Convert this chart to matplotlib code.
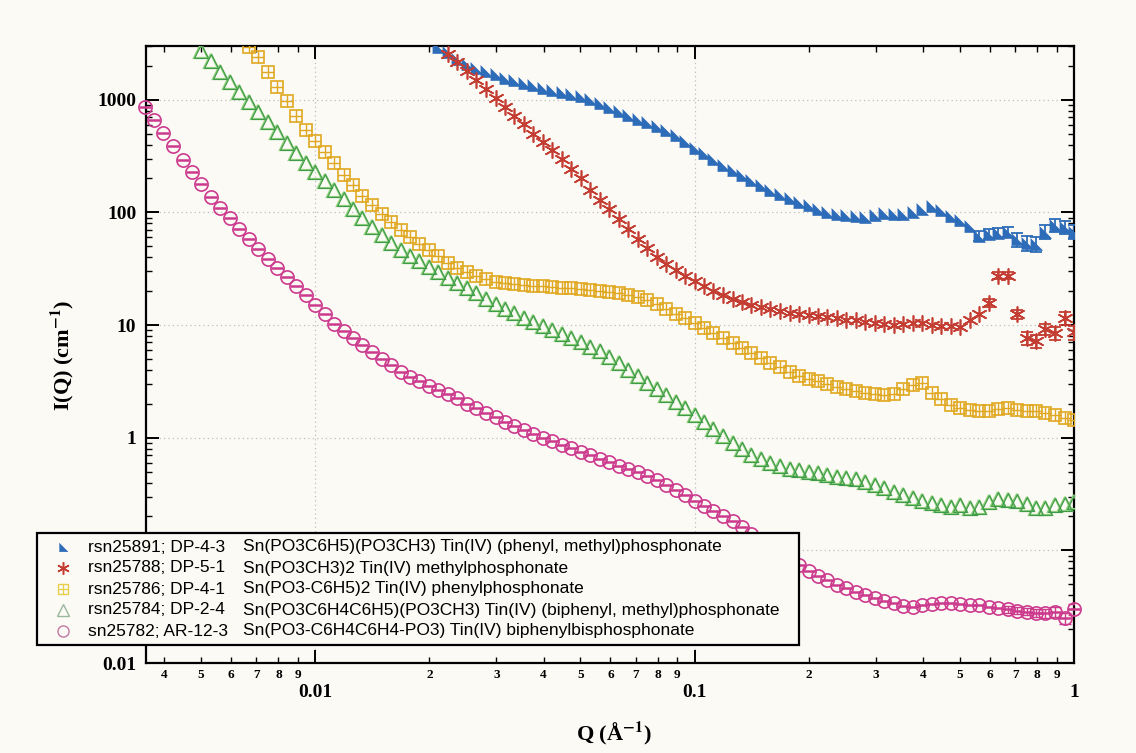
import matplotlib
matplotlib.use('Agg')
import matplotlib.pyplot as plt
from matplotlib.ticker import LogLocator, FuncFormatter, NullFormatter
from matplotlib.patches import Rectangle
import numpy as np

plt.rcParams['font.family'] = 'Liberation Serif'
plt.rcParams['font.weight'] = 'bold'
plt.rcParams['mathtext.fontset'] = 'stix'

# ---------------- data ----------------
q = [0.00355, 0.00376, 0.00398, 0.00422, 0.00447, 0.00473, 0.00501, 0.00531, 0.00562, 0.00596,
     0.00631, 0.00668, 0.00708, 0.00750, 0.00794, 0.00841, 0.00891, 0.00944, 0.0100, 0.0106,
     0.0112, 0.0119, 0.0126, 0.0133, 0.0141, 0.0150, 0.0158, 0.0168, 0.0178, 0.0188,
     0.0200, 0.0211, 0.0224, 0.0237, 0.0251, 0.0266, 0.0282, 0.0299, 0.0316, 0.0335,
     0.0355, 0.0376, 0.0398, 0.0422, 0.0447, 0.0473, 0.0501, 0.0531, 0.0562, 0.0596,
     0.0631, 0.0668, 0.0708, 0.0750, 0.0794, 0.0841, 0.0891, 0.0944, 0.100, 0.106,
     0.112, 0.119, 0.126, 0.133, 0.141, 0.150, 0.158, 0.168, 0.178, 0.188,
     0.200, 0.211, 0.224, 0.237, 0.251, 0.266, 0.282, 0.299, 0.316, 0.335,
     0.355, 0.376, 0.398, 0.422, 0.447, 0.473, 0.501, 0.531, 0.562, 0.596,
     0.631, 0.668, 0.708, 0.750, 0.794, 0.841, 0.891, 0.944, 1.000]

# rsn25891 (blue), first point at q index 31
blue_start = 31
blue_I = [2950, 2630, 2320, 2070, 1930, 1800, 1680, 1570, 1490,
          1410, 1350, 1280, 1220, 1170, 1120, 1070, 1010, 933, 861,
          794, 733, 676, 631, 589, 543, 484, 427, 376, 335,
          299, 266, 240, 216, 195, 176, 158, 145, 133, 124,
          116, 108, 101, 96.6, 94.4, 92.3, 91.2, 94.4, 98.9, 97.7,
          97.7, 101, 108, 114, 105, 93.3, 85.1, 75.0, 61.7, 64.6,
          66.1, 67.6, 57.5, 53.7, 52.5, 67.6, 76.7, 74.1, 67.6]
blue_err_tail = [6, 6, 7, 7, 8, 8, 8, 9, 10, 10, 9]

# rsn25788 (red), first point at q index 32
red_start = 32
red_I = [2570, 2160, 1800, 1500, 1240, 1035, 861, 721,
         603, 501, 422, 355, 295, 244, 200, 158, 129, 107,
         88.1, 71.6, 58.2, 47.9, 40.3, 34.7, 30.5, 27.2, 24.5, 22.1,
         20.0, 18.4, 17.2, 16.0, 15.1, 14.5, 13.8, 13.2, 12.9, 12.6,
         12.3, 12.1, 11.9, 11.6, 11.2, 11.0, 10.7, 10.5, 10.2, 10.1,
         10.2, 10.5, 10.4, 10.1, 9.89, 9.77, 9.66, 11.0, 12.5, 15.7,
         27.5, 27.5, 12.5, 7.6, 7.2, 9.2, 8.5, 11.5, 8.6]
red_err_tail = [1.2, 2.0, 2.0, 1.2, 1.0, 1.0, 1.1, 1.1, 1.5, 1.2]

# rsn25786 (yellow), first point at q index 11
yellow_start = 11
yellow_I = [2950, 2390, 1770, 1310, 973, 721, 543, 432, 343,
            272, 216, 176, 141, 117, 97.7, 82.2, 70.0, 60.3, 52.5,
            46.2, 40.7, 35.9, 32.4, 29.5, 27.2, 25.4, 24.3, 23.6, 23.0,
            22.6, 22.3, 22.0, 21.7, 21.5, 21.2, 20.9, 20.5, 20.0, 19.5,
            19.1, 18.4, 17.6, 16.6, 15.3, 14.0, 12.6, 11.5, 10.5, 9.44,
            8.51, 7.67, 6.92, 6.24, 5.60, 5.07, 4.62, 4.22, 3.85, 3.56,
            3.35, 3.16, 2.99, 2.82, 2.69, 2.58, 2.50, 2.44, 2.41, 2.45,
            2.69, 2.92, 3.09, 2.51, 2.19, 1.97, 1.84, 1.75, 1.72, 1.74,
            1.78, 1.82, 1.76, 1.72, 1.74, 1.66, 1.60, 1.51, 1.45]

# rsn25784 (green), first point at q index 6
green_start = 6
green_I = [2690, 2190, 1780, 1450,
           1180, 955, 776, 631, 513, 417, 339, 275, 229, 190,
           157, 131, 108, 89.9, 74.6, 63.1, 53.7, 46.8, 41.2, 36.7,
           32.9, 29.5, 26.4, 23.7, 21.2, 19.1, 17.1, 15.5, 14.0, 12.7,
           11.6, 10.7, 9.89, 9.08, 8.34, 7.66, 7.03, 6.43, 5.86, 5.19,
           4.57, 4.01, 3.51, 3.07, 2.69, 2.37, 2.08, 1.83, 1.58, 1.37,
           1.19, 1.03, 0.906, 0.798, 0.708, 0.646, 0.600, 0.562, 0.531, 0.513,
           0.498, 0.483, 0.468, 0.452, 0.442, 0.427, 0.407, 0.380, 0.355, 0.331,
           0.309, 0.292, 0.275, 0.263, 0.254, 0.245, 0.251, 0.240, 0.245, 0.269,
           0.288, 0.282, 0.275, 0.257, 0.240, 0.237, 0.251, 0.260, 0.269]

# sn25782 (magenta), first point at q index 0
magenta_start = 0
magenta_I = [865, 661, 504, 385, 294, 229, 177, 137, 110, 88.7,
             71.3, 58.0, 47.4, 38.8, 31.9, 26.5, 22.1, 18.4, 15.2, 12.5,
             10.3, 8.93, 7.73, 6.70, 5.80, 5.02, 4.40, 3.85, 3.47, 3.16,
             2.88, 2.63, 2.42, 2.23, 2.00, 1.82, 1.66, 1.52, 1.38, 1.26,
             1.16, 1.08, 1.00, 0.929, 0.865, 0.803, 0.746, 0.695, 0.649, 0.605,
             0.565, 0.527, 0.492, 0.459, 0.425, 0.381, 0.342, 0.307, 0.276, 0.249,
             0.224, 0.202, 0.182, 0.161, 0.141, 0.124, 0.109, 0.0958, 0.0841, 0.0740,
             0.0653, 0.0596, 0.0543, 0.0495, 0.0460, 0.0430, 0.0402, 0.0376, 0.0357, 0.0340,
             0.0322, 0.0316, 0.0324, 0.0335, 0.0340, 0.0339, 0.0333, 0.0327, 0.0324, 0.0316,
             0.0308, 0.0300, 0.0292, 0.0285, 0.0279, 0.0277, 0.0285, 0.0250, 0.0300]
magenta_err_tail = [0.002, 0.002, 0.002, 0.0025, 0.0025, 0.003, 0.003, 0.0035]

legend_ids = ['rsn25891; DP-4-3', 'rsn25788; DP-5-1', 'rsn25786; DP-4-1',
              'rsn25784; DP-2-4', 'sn25782; AR-12-3']
legend_desc = ['Sn(PO3C6H5)(PO3CH3) Tin(IV) (phenyl, methyl)phosphonate',
               'Sn(PO3CH3)2 Tin(IV) methylphosphonate',
               'Sn(PO3-C6H5)2 Tin(IV) phenylphosphonate',
               'Sn(PO3C6H4C6H5)(PO3CH3) Tin(IV) (biphenyl, methyl)phosphonate',
               'Sn(PO3-C6H4C6H4-PO3) Tin(IV) biphenylbisphosphonate']

# ---------------- styling ----------------
BG = '#fcfaf5'
C_BLUE = '#2d6cb8'
C_RED = '#c43d33'
C_YEL = '#e0a820'
C_GRN = '#3f9a4c'
C_MAG = '#cc3a8e'
CORNER_TRI = [(-1, -1), (1, -1), (-1, 1)]


def qs_for(start, vals):
    return q[start:start + len(vals)]


fig = plt.figure(figsize=(11.36, 7.53), dpi=100, facecolor=BG)
ax = fig.add_axes([146 / 1136, 90 / 753, 928 / 1136, 617 / 753], facecolor=BG)
ax.set_xscale('log')
ax.set_yscale('log')
ax.set_xlim(0.00358, 1.0)
ax.set_ylim(0.01, 3000)
ax.set_axisbelow(True)
ax.grid(which='major', color='#bdbdbd', ls=(0, (1, 2.5)), lw=0.9)

# magenta circles with inner bar
mq = qs_for(magenta_start, magenta_I)
ax.plot(mq, magenta_I, ls='none', marker='o', ms=9.5, mfc='none', mec=C_MAG, mew=1.2, clip_on=False, zorder=3)
ax.plot(mq, magenta_I, ls='none', marker='_', ms=8.5, mec=C_MAG, mew=1.8, clip_on=False, zorder=3)
ax.errorbar(mq[-len(magenta_err_tail):], magenta_I[-len(magenta_err_tail):], yerr=magenta_err_tail,
            fmt='none', ecolor=C_MAG, elinewidth=1.0, capsize=4, capthick=1.0, zorder=3)

# green open triangles
gq = qs_for(green_start, green_I)
ax.plot(gq, green_I, ls='none', marker='^', ms=10.5, mfc='none', mec='#8fd07a', mew=1.6, zorder=3)
ax.plot(gq, green_I, ls='none', marker='^', ms=10.5, mfc='none', mec=C_GRN, mew=0.8, zorder=3)

# yellow squares with cross
yq = qs_for(yellow_start, yellow_I)
ax.plot(yq, yellow_I, ls='none', marker='s', ms=8.5, mfc='none', mec=C_YEL, mew=1.2, zorder=3)
ax.plot(yq, yellow_I, ls='none', marker='+', ms=8.5, mec=C_YEL, mew=1.0, zorder=3)

# blue filled corner triangles
bq = qs_for(blue_start, blue_I)
ax.plot(bq, blue_I, ls='none', marker=CORNER_TRI, ms=8.5, mfc=C_BLUE, mec=C_BLUE, mew=0.5, zorder=4)
ax.errorbar(bq[-len(blue_err_tail):], blue_I[-len(blue_err_tail):], yerr=blue_err_tail,
            fmt='none', ecolor=C_BLUE, elinewidth=1.3, capsize=4.5, capthick=1.3, zorder=4)

# red asterisks
rq = qs_for(red_start, red_I)
ax.plot(rq, red_I, ls='none', marker=(6, 2, 0), ms=11.5, mec=C_RED, mew=1.2, zorder=5)
ax.errorbar(rq[-len(red_err_tail):], red_I[-len(red_err_tail):], yerr=red_err_tail,
            fmt='none', ecolor=C_RED, elinewidth=1.3, capsize=4.5, capthick=1.3, zorder=5)

# ticks
ax.xaxis.set_major_locator(LogLocator(base=10, numticks=20))
ax.xaxis.set_minor_locator(LogLocator(base=10, subs=np.arange(2, 10), numticks=20))
ax.yaxis.set_major_locator(LogLocator(base=10, numticks=20))
ax.yaxis.set_minor_locator(LogLocator(base=10, subs=np.arange(2, 10), numticks=20))


def major_fmt(v, pos):
    return '%g' % v


def y_major_fmt(v, pos):
    # the 0.1 label is hidden behind the legend box in the original
    if abs(np.log10(v) + 1) < 1e-6:
        return ''
    return '%g' % v


def minor_fmt(v, pos):
    e = np.floor(np.log10(v) + 1e-9)
    return '%d' % int(round(v / 10 ** e))


ax.xaxis.set_major_formatter(FuncFormatter(major_fmt))
ax.xaxis.set_minor_formatter(FuncFormatter(minor_fmt))
ax.yaxis.set_major_formatter(FuncFormatter(y_major_fmt))
ax.yaxis.set_minor_formatter(NullFormatter())

ax.tick_params(which='both', direction='in', top=True, right=True, colors='black')
ax.tick_params(which='major', length=9.5, width=1.4)
ax.tick_params(which='minor', length=4.5, width=1.0)
ax.tick_params(axis='x', which='major', labelsize=14, pad=15)
ax.tick_params(axis='x', which='minor', labelsize=9.5, pad=4)
ax.tick_params(axis='y', which='major', labelsize=14, pad=7)
for s in ax.spines.values():
    s.set_linewidth(1.6)

fig.text(614 / 1136, 1 - 733 / 753, r'Q (Å$^{\mathbf{-1}}$)', ha='center', va='center',
         fontsize=16, fontweight='bold')
fig.text(62 / 1136, 1 - 355 / 753, r'I(Q) (cm$^{\mathbf{-1}}$)', ha='center', va='center',
         rotation=90, fontsize=16, fontweight='bold')

# ---------------- legend (drawn in pixel coordinates) ----------------
ov = fig.add_axes([0, 0, 1, 1], facecolor='none')
ov.set_xlim(0, 1136)
ov.set_ylim(753, 0)
ov.axis('off')
ov.set_zorder(10)
ov.add_patch(Rectangle((37, 533), 762, 112, facecolor=BG, edgecolor='black', lw=1.6))

leg_styles = [
    dict(marker=CORNER_TRI, ms=6, mfc=C_BLUE, mec=C_BLUE, mew=0.5),
    dict(marker=(6, 2, 0), ms=9, mec=C_RED, mew=1.1),
    dict(marker='s', ms=7, mfc='none', mec='#e8cf4a', mew=1.0),
    dict(marker='^', ms=8, mfc='none', mec='#9ab89e', mew=1.0),
    dict(marker='o', ms=8, mfc='none', mec='#c07aa0', mew=1.0),
]
for i in range(5):
    y = 547 + 21 * i
    ov.plot([63], [y], ls='none', **leg_styles[i])
    if i == 2:
        ov.plot([63], [y], ls='none', marker='+', ms=7, mec='#e8cf4a', mew=0.9)
    ov.text(88, y, legend_ids[i], ha='left', va='center', fontsize=12.5,
            family='Liberation Sans', fontweight='normal')
    ov.text(243, y, legend_desc[i], ha='left', va='center', fontsize=12.5,
            family='Liberation Sans', fontweight='normal')

fig.savefig('out.png', dpi=100, facecolor=BG)
